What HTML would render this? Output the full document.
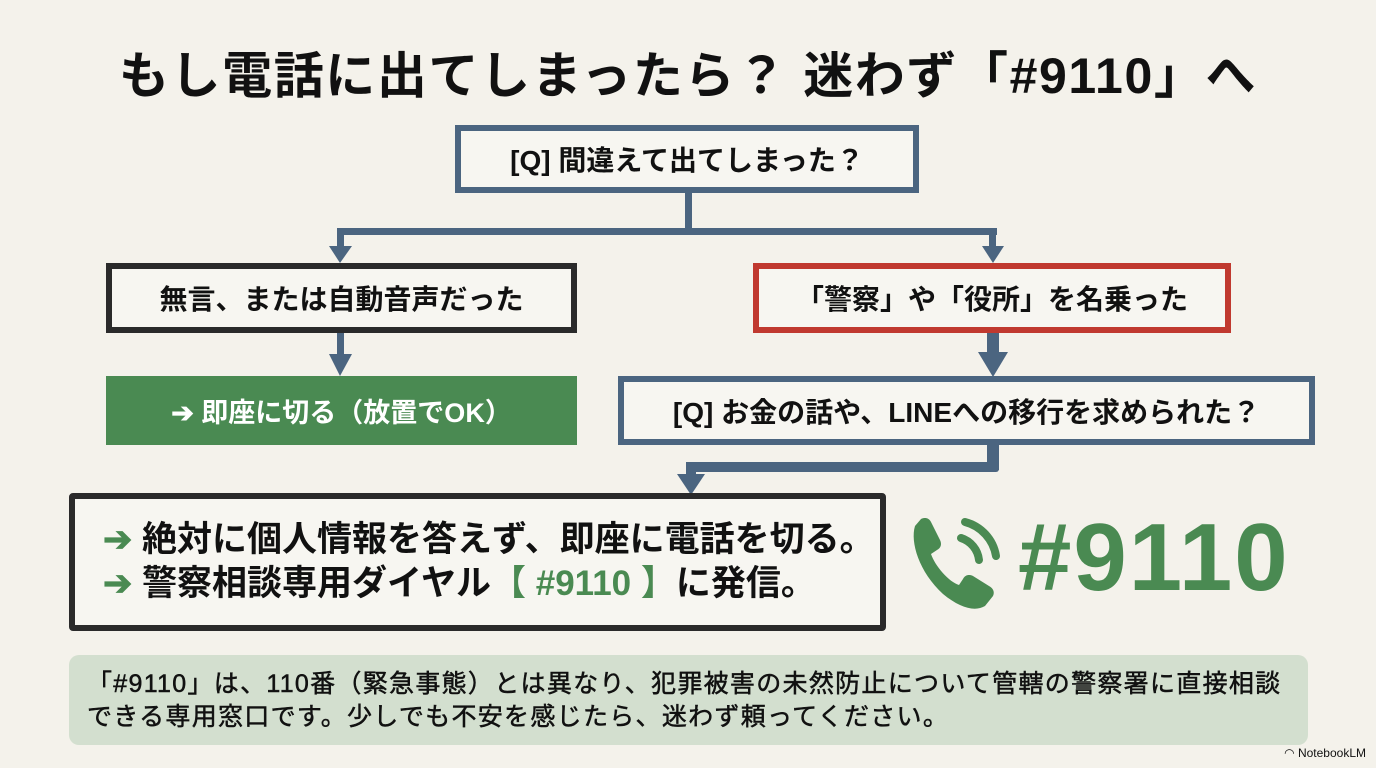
<!DOCTYPE html>
<html><head><meta charset="utf-8"><style>
*{margin:0;padding:0;box-sizing:border-box}
body{width:1376px;height:768px;background:#f4f2eb;position:relative;overflow:hidden;font-family:"Liberation Sans","Noto Sans CJK JP",sans-serif;font-weight:bold;color:#111}
.a{position:absolute}
.box{position:absolute;display:flex;align-items:center;justify-content:center;background:#f7f6f1;white-space:nowrap}
</style></head><body>
<div class="a" style="left:0;width:1376px;top:36px;text-align:center;font-size:50px;letter-spacing:1.6px">もし電話に出てしまったら？ 迷わず「#9110」へ</div>

<div class="box" style="left:455px;top:125px;width:464px;height:68px;border:6px solid #4b6580;font-size:28px">[Q] 間違えて出てしまった？</div>

<svg class="a" style="left:0;top:0" width="1376" height="768">
<g fill="#4b6580" stroke="none">
<rect x="685" y="192" width="7" height="42"/>
<rect x="337" y="228" width="660" height="7"/>
<rect x="337" y="228" width="7" height="20"/>
<polygon points="329,246 352,246 340,263"/>
<rect x="989" y="228" width="7" height="20"/>
<polygon points="982,246 1004,246 993,263"/>
<rect x="337" y="332" width="7" height="24"/>
<polygon points="329,354 352,354 340,376"/>
<rect x="987" y="332" width="12" height="22"/>
<polygon points="978,352 1008,352 993,377"/>
<rect x="987" y="444" width="12" height="26"/>
<rect x="686" y="462" width="313" height="10" rx="3"/>
<rect x="686" y="462" width="10" height="14"/>
<polygon points="677,474 705,474 691,495"/>
</g>
<g transform="translate(905,512)" fill="#4a8a52">
<path d="M10 14 C5 30 14 60 38 82 C55 96 70 100 80 94 L88 84 C90 80 88 76 84 74 L68 64 C64 62 60 63 58 67 L54 73 C44 70 30 54 26 42 L32 38 C36 36 37 32 35 28 L26 10 C24 6 20 5 16 7 Z"/>
<path d="M56 26 A26 26 0 0 1 74 48" stroke="#4a8a52" stroke-width="8" fill="none" stroke-linecap="round"/>
<path d="M60 10 A42 42 0 0 1 91 44" stroke="#4a8a52" stroke-width="8" fill="none" stroke-linecap="round"/>
</g>
</svg>

<div class="box" style="left:106px;top:263px;width:471px;height:70px;border:6px solid #2a2a2a;font-size:28px">無言、または自動音声だった</div>
<div class="box" style="left:106px;top:376px;width:471px;height:69px;background:#4a8a52;color:#fff;font-size:27px">➔ 即座に切る（放置でOK）</div>
<div class="box" style="left:753px;top:263px;width:478px;height:70px;border:6px solid #c0392f;font-size:28px">「警察」や「役所」を名乗った</div>
<div class="box" style="left:618px;top:376px;width:697px;height:69px;border:6px solid #4b6580;font-size:28px">[Q] お金の話や、LINEへの移行を求められた？</div>

<div class="box" style="left:69px;top:493px;width:817px;height:138px;border:6px solid #2a2a2a;border-radius:4px;flex-direction:column;align-items:flex-start;padding-left:28px;font-size:35px;line-height:44px">
<div><span style="color:#4a8a52">➔</span> 絶対に個人情報を答えず、即座に電話を切る。</div>
<div><span style="color:#4a8a52">➔</span> 警察相談専用ダイヤル<span style="color:#4a8a52">【 #9110 】</span>に発信。</div>
</div>

<div class="a" style="left:1018px;top:498px;font-size:96px;color:#4a8a52;letter-spacing:2px;line-height:120px">#9110</div>

<div class="a" style="left:69px;top:655px;width:1239px;height:90px;background:#d3dfcf;border-radius:10px;padding:13px 0 0 18px;font-size:25px;line-height:33px;font-weight:normal;-webkit-text-stroke:0.5px #111;white-space:nowrap;letter-spacing:1.3px">「#9110」は、110番（緊急事態）とは異なり、犯罪被害の未然防止について管轄の警察署に直接相談<br>できる専用窓口です。少しでも不安を感じたら、迷わず頼ってください。</div>

<div class="a" style="right:10px;top:746px;font-size:12px;font-weight:normal">◠ NotebookLM</div>
</body></html>
